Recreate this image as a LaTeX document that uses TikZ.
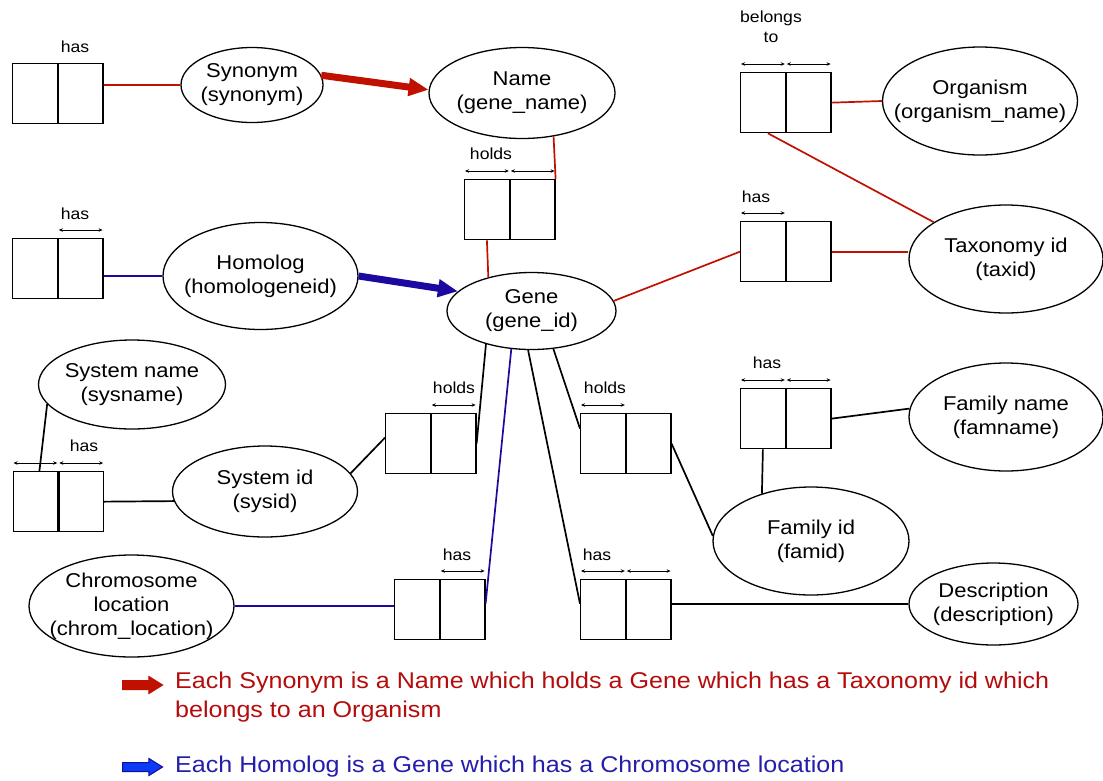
\documentclass[tikz,border=0pt]{standalone}
\usepackage{fontspec}
\setmainfont{Liberation Sans}[FakeStretch=1.1]
\usetikzlibrary{shapes.geometric,shapes.arrows,arrows.meta,positioning}
\definecolor{lnred}{RGB}{192,16,0}
\definecolor{lnblue}{RGB}{28,10,160}
\definecolor{txtred}{RGB}{180,12,12}
\definecolor{txtblue}{RGB}{36,30,170}
\definecolor{keyblue}{RGB}{10,60,245}
\tikzset{
  ent/.style={draw, ellipse, inner xsep=-30pt, inner ysep=-8pt, align=center, line width=1.3pt, font=\fontsize{20}{24}\selectfont},
  half/.style={draw, rectangle, minimum width=44.5pt, minimum height=60pt, inner sep=0pt, line width=1.3pt},
  role/.style={font=\fontsize{16}{20}\selectfont, align=center, inner sep=0pt},
  span/.style={{Stealth[length=4pt,width=3.5pt]}-{Stealth[length=4pt,width=3.5pt]}, line width=0.9pt},
  conn/.style={line width=1.7pt},
  redconn/.style={conn, lnred},
  blueconn/.style={conn, lnblue},
  fat/.style={line width=7pt, -{Triangle[length=20pt,width=17pt]}},
  keyarrow/.style={single arrow, single arrow head extend=4pt, single arrow tip angle=64, inner xsep=0pt, inner ysep=4pt, minimum height=40pt, line width=1pt},
  keytext/.style={anchor=west, align=left, inner sep=0pt, font=\fontsize{22.8}{29}\selectfont}
}
\newcommand\relbox[2]{%
  \node[half, anchor=north west] (#1l) at (#2) {};
  \node[half, right=0pt of #1l] (#1r) {};
}
\begin{document}
\begin{tikzpicture}
[x=1pt,y=-1pt]
\useasboundingbox (0,0) rectangle (1103,780);
% entities
\node[ent, minimum width=142pt, minimum height=75pt] (syn) at (252,85) {Synonym\\(synonym)};
\node[ent, minimum width=186pt, minimum height=91pt] (name) at (522,93) {Name\\(gene\_name)};
\node[ent, minimum width=169pt, minimum height=77pt] (gene) at (531.5,311) {Gene\\(gene\_id)};
\node[ent, minimum width=195pt, minimum height=107pt] (hom) at (260.5,276) {Homolog\\(homologeneid)};
\node[ent, minimum width=195pt, minimum height=108pt] (org) at (980,101) {Organism\\(organism\_name)};
\node[ent, minimum width=194pt, minimum height=108pt] (tax) at (1006,259) {Taxonomy id\\(taxid)};
\node[ent, minimum width=187pt, minimum height=89pt] (sysname) at (132,384.5) {System name\\(sysname)};
\node[ent, minimum width=185pt, minimum height=91pt] (sysid) at (265,491.5) {System id\\(sysid)};
\node[ent, minimum width=205pt, minimum height=102pt] (chrom) at (131.5,606) {Chromosome\\location\\(chrom\_location)};
\node[ent, minimum width=194pt, minimum height=108pt] (famname) at (1006,417) {Family name\\(famname)};
\node[ent, minimum width=196pt, minimum height=108pt] (famid) at (811,541) {Family id\\(famid)};
\node[ent, minimum width=169pt, minimum height=82pt] (desc) at (993.5,604) {Description\\(description)};
% fact boxes
\relbox{b1}{12,63}
\relbox{b2}{12,238}
\relbox{b3}{464,179}
\relbox{b4}{740,72}
\relbox{b5}{740,221}
\relbox{b6}{12.5,471}
\relbox{b7}{385,413}
\relbox{b8}{394,579}
\relbox{b9}{580,413}
\relbox{b10}{580,579}
\relbox{b11}{740,388}
\foreach \h in {b2r,b3l,b3r,b4l,b4r,b5l,b6l,b6r,b7r,b8r,b9l,b10l,b10r,b11l,b11r}
  \draw[span] ([xshift=1pt,yshift=8pt]\h.north west) -- ([xshift=-1pt,yshift=8pt]\h.north east);
\node[role] (rA) at (75,47) {has};
\node[role] (rB) at (75,214) {has};
\node[role] (rC) at (491,154) {holds};
\node[role] (rD) at (771,27) {belongs\\to};
\node[role] (rE) at (756,197) {has};
\node[role] (rF) at (84,446) {has};
\node[role] (rG) at (454,388) {holds};
\node[role] (rH) at (457,555) {has};
\node[role] (rI) at (605,388) {holds};
\node[role] (rJ) at (597,555) {has};
\node[role] (rK) at (767,363) {has};
% connectors
\draw[redconn] (b1r.east |- syn.west) -- (syn.west);
\draw[fat, lnred] (syn.8) -- (name.178);
\draw[redconn] (name.-54) -- (b3r.north east);
\draw[redconn] (b3l.south) -- (gene.142);
\draw[redconn] (gene.7) -- (b5l.west);
\draw[redconn] (b5r.east) -- (b5r.east -| tax.west);
\draw[redconn] ([xshift=5pt]b4l.south) -- (tax.153);
\draw[redconn] (b4r.east) -- (org.west);
\draw[blueconn] (b2r.east |- hom.west) -- (hom.west);
\draw[fat, lnblue] (hom.east) -- (gene.165);
\draw[blueconn] (gene.-118) -- ([yshift=6pt]b8r.east);
\draw[blueconn] (chrom.east) -- (chrom.east -| b8l.west);
\draw[conn] (sysname.193) -- ([xshift=4pt]b6l.north);
\draw[conn] (b6r.east) -- (sysid.186);
\draw[conn] (sysid.12) -- ([yshift=6pt]b7l.west);
\draw[conn] (gene.216) -- (b7r.east);
\draw[conn] (gene.-60) -- ([yshift=15pt]b9l.west);
\draw[conn] (gene.-95) -- ([yshift=6pt]b10l.west);
\draw[conn] (b9r.east) -- (famid.177);
\draw[conn] (b11l.south) -- (famid.136);
\draw[conn] (b11r.east) -- (famname.175);
\draw[conn] ([yshift=6pt]b10r.east) -- ([yshift=6pt]b10r.east -| desc.west);
% key
\node[keyarrow, fill=lnred, draw=lnred] (keyA) at (139,685) {};
\node[keytext, text=txtred] (keyAtxt) at (175,697.5) {Each Synonym is a Name which holds a Gene which has a Taxonomy id which\\belongs to an Organism};
\node[keyarrow, fill=keyblue, draw=lnblue] (keyB) at (139,767) {};
\node[keytext, text=txtblue] (keyBtxt) at (175,767) {Each Homolog is a Gene which has a Chromosome location};
\end{tikzpicture}
\end{document}
